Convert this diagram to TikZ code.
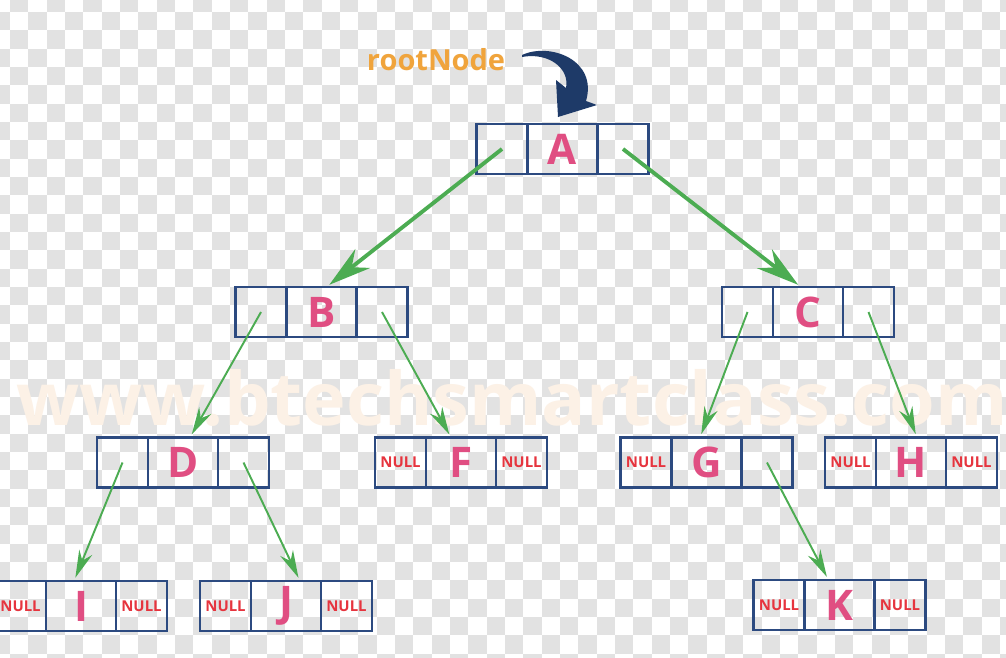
\documentclass[tikz,border=0pt]{standalone}
\usepackage{fontspec}
\setmainfont{Open Sans}
\usetikzlibrary{arrows.meta, positioning}

\definecolor{boxblue}{RGB}{44,74,128}
\definecolor{keypink}{RGB}{224,78,130}
\definecolor{nullred}{RGB}{230,52,62}
\definecolor{linkgreen}{RGB}{76,172,82}
\definecolor{rootorange}{RGB}{240,164,60}
\definecolor{rootnavy}{RGB}{30,58,104}
\definecolor{checkgray}{RGB}{226,226,226}
\definecolor{wmark}{RGB}{252,241,230}

\begin{document}
\begin{tikzpicture}[
    x=0.02cm, y=-0.02cm,
    cell/.style={rectangle, draw=boxblue, line width=1.4pt, minimum width=1.02cm, minimum height=1cm, inner sep=0pt, outer sep=0pt, text=nullred, font=\bfseries\fontsize{8.5}{9}\selectfont},
    key/.style={cell, minimum width=1.4cm, text=keypink, font=\bfseries\fontsize{24}{26}\selectfont},
    link/.style={-{Stealth[length=5.5mm, width=2.8mm, inset=1.8mm]}, line width=1.1pt, draw=linkgreen, shorten >=2pt},
    toplink/.style={link, line width=2.2pt, -{Stealth[length=8.5mm, width=4.8mm, inset=2.8mm]}}
]
\useasboundingbox (0,0) rectangle (1006,658);
\clip (0,0) rectangle (1006,658);

% Fond
\fill[white] (0,0) rectangle (1006,658);
\foreach \i in {0,...,56} {
  \foreach \j in {0,...,37} {
    \pgfmathtruncatemacro{\odd}{mod(\i+\j,2)}
    \ifnum\odd=1
      \fill[fill=checkgray] ({-8.33+\i*18.33},{-6.33+\j*18.33}) rectangle ++(18.33,18.33);
    \fi
  }
}
\node[text=wmark, inner sep=0pt, font=\bfseries\fontsize{42}{42}\selectfont] (wm) at (512,398) {www.btechsmartclass.com};

% Noeuds
\node[key] (A) at (562.5,149) {A};
\node[cell, left=0pt of A] (A-l) {};
\node[cell, right=0pt of A] (A-r) {};

\node[key] (B) at (321.5,312) {B};
\node[cell, left=0pt of B] (B-l) {};
\node[cell, right=0pt of B] (B-r) {};

\node[key] (C) at (808,312) {C};
\node[cell, left=0pt of C] (C-l) {};
\node[cell, right=0pt of C] (C-r) {};

\node[key] (D) at (183,462.5) {D};
\node[cell, left=0pt of D] (D-l) {};
\node[cell, right=0pt of D] (D-r) {};

\node[key] (F) at (461,462.5) {F};
\node[cell, left=0pt of F] (F-l) {NULL};
\node[cell, right=0pt of F] (F-r) {NULL};

\node[key] (G) at (706.5,462.5) {G};
\node[cell, left=0pt of G] (G-l) {NULL};
\node[cell, right=0pt of G] (G-r) {};

\node[key] (H) at (911,462.5) {H};
\node[cell, left=0pt of H] (H-l) {NULL};
\node[cell, right=0pt of H] (H-r) {NULL};

\node[key] (I) at (81,606) {I};
\node[cell, left=0pt of I] (I-l) {NULL};
\node[cell, right=0pt of I] (I-r) {NULL};

\node[key] (J) at (286,606) {J};
\node[cell, left=0pt of J] (J-l) {NULL};
\node[cell, right=0pt of J] (J-r) {NULL};

\node[key] (K) at (839.5,605) {K};
\node[cell, left=0pt of K] (K-l) {NULL};
\node[cell, right=0pt of K] (K-r) {NULL};

% Racine
\node[text=rootorange, font=\bfseries\fontsize{16.5}{18}\selectfont] (root) at (436,60) {rootNode};
\begin{scope}[shift={(A.north)}]
\fill[rootnavy] (-40.5,-69) .. controls (-12.5,-82) and (35.5,-64) .. (23.5,-23)
  -- (34.5,-19) -- (-4.5,-7) -- (-6.5,-44) -- (3.5,-36)
  .. controls (7.5,-56) and (-14.5,-72) .. (-40.5,-67) -- cycle;
\end{scope}

% Pointeurs
\draw[toplink] (A-l.center) -- ([xshift=0.1cm]B.north);
\draw[toplink] (A-r.center) -- ([xshift=-0.14cm]C.north);
\draw[link] (B-l.center) -- ([xshift=0.14cm]D.north);
\draw[link] (B-r.center) -- ([xshift=-0.2cm]F.north);
\draw[link] (C-l.center) -- ([xshift=-0.13cm]G.north);
\draw[link] (C-r.center) -- ([xshift=0.12cm]H.north);
\draw[link] (D-l.center) -- ([xshift=-0.14cm]I.north);
\draw[link] (D-r.center) -- ([xshift=0.28cm]J.north);
\draw[link] (G-r.center) -- ([xshift=-0.22cm]K.north);
\end{tikzpicture}
\end{document}
